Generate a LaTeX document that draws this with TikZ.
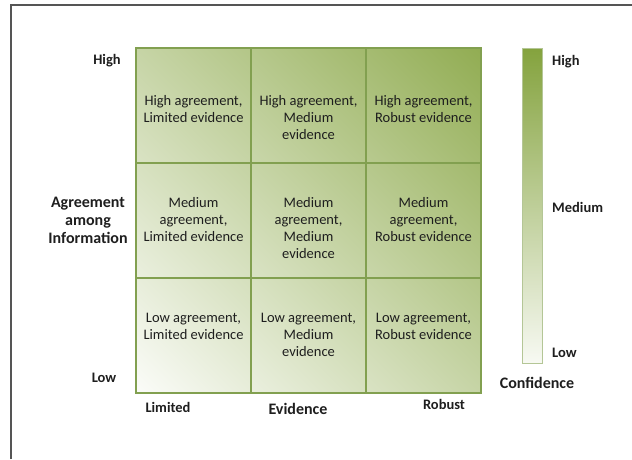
\documentclass[tikz,border=0pt]{standalone}
\usepackage{fontspec}
\setmainfont{Carlito}
\usepackage{tikz}
\usetikzlibrary{positioning,shadings}
\definecolor{cfgreen}{HTML}{7E9E34}
\definecolor{cfline}{HTML}{82A050}
\definecolor{cfframe}{HTML}{555555}
\definecolor{cftext}{HTML}{1E1E1E}
\tikzset{
  cellText/.style={font=\fontsize{14.5}{17}\selectfont, text=cftext, align=center, anchor=north, inner sep=0pt},
  axisLabel/.style={font=\fontsize{14.5}{16}\selectfont\bfseries, text=cftext, inner sep=0pt},
  axisTitle/.style={font=\fontsize{16}{18}\selectfont\bfseries, text=cftext, align=center, inner sep=0pt},
  gridLine/.style={draw=cfline, line width=1.4pt}
}

\begin{document}
\begin{tikzpicture}[x=1pt,y=1pt]
  \useasboundingbox (0,0) rectangle (632,459);
  \draw[cfframe, line width=2pt] (11,0) -- (11,454) -- (632,454);
  % shaded cells, darker towards high agreement / robust evidence
  \foreach \i in {0,1,2} {
    \foreach \j in {0,1,2} {
      \pgfmathtruncatemacro{\tll}{3+(\i+\j)*13}
      \pgfmathtruncatemacro{\tur}{\tll+30}
      \pgfmathtruncatemacro{\tmid}{\tll+15}
      \shade[lower left=cfgreen!\tll!white, upper right=cfgreen!\tur!white,
        upper left=cfgreen!\tmid!white, lower right=cfgreen!\tmid!white]
        (136+115*\i,66+115*\j) rectangle ++(115,115);
    }
  }
  \foreach \k in {1,2} {
    \draw[gridLine] (136+115*\k,66) -- (136+115*\k,411);
    \draw[gridLine] (136,66+115*\k) -- (481,66+115*\k);
  }
  \draw[gridLine, line width=2pt] (136,66) rectangle (481,411);
  \foreach \i/\ytop/\txt [count=\n] in {
    0/364/{High agreement,\\Limited evidence},
    1/364/{High agreement,\\Medium\\evidence},
    2/364/{High agreement,\\Robust evidence},
    0/262/{Medium\\agreement,\\Limited evidence},
    1/262/{Medium\\agreement,\\Medium\\evidence},
    2/262/{Medium\\agreement,\\Robust evidence},
    0/146/{Low agreement,\\Limited evidence},
    1/146/{Low agreement,\\Medium\\evidence},
    2/146/{Low agreement,\\Robust evidence}} {
    \node[cellText] (cell\n) at (193.5+115*\i,\ytop) {\txt};
  }
  % axes
  \node[axisLabel] (agrHigh) at (107,398) {High};
  \node[axisLabel] (agrLow) at (104,81) {Low};
  \node[axisTitle] (agrTitle) at (88,239) {Agreement\\among\\Information};
  \node[axisLabel] (evLimited) at (168,52) {Limited};
  \node[axisTitle] (evTitle) at (298,50) {Evidence};
  \node[axisLabel] (evRobust) at (444,55) {Robust};
  % confidence bar
  \node[draw=cfline!60, line width=1pt, minimum width=20pt, minimum height=314pt, inner sep=0pt,
    top color=cfgreen!95!white, bottom color=cfgreen!6!white] (confBar) at (532,253) {};
  \node[axisLabel, anchor=west] (confHigh) at (552,397) {High};
  \node[axisLabel, anchor=west] (confMed) at (552,252) {Medium};
  \node[axisLabel, anchor=west] (confLow) at (552,106) {Low};
  \node[axisTitle] (confTitle) at (537,76) {Confidence};
\end{tikzpicture}
\end{document}
